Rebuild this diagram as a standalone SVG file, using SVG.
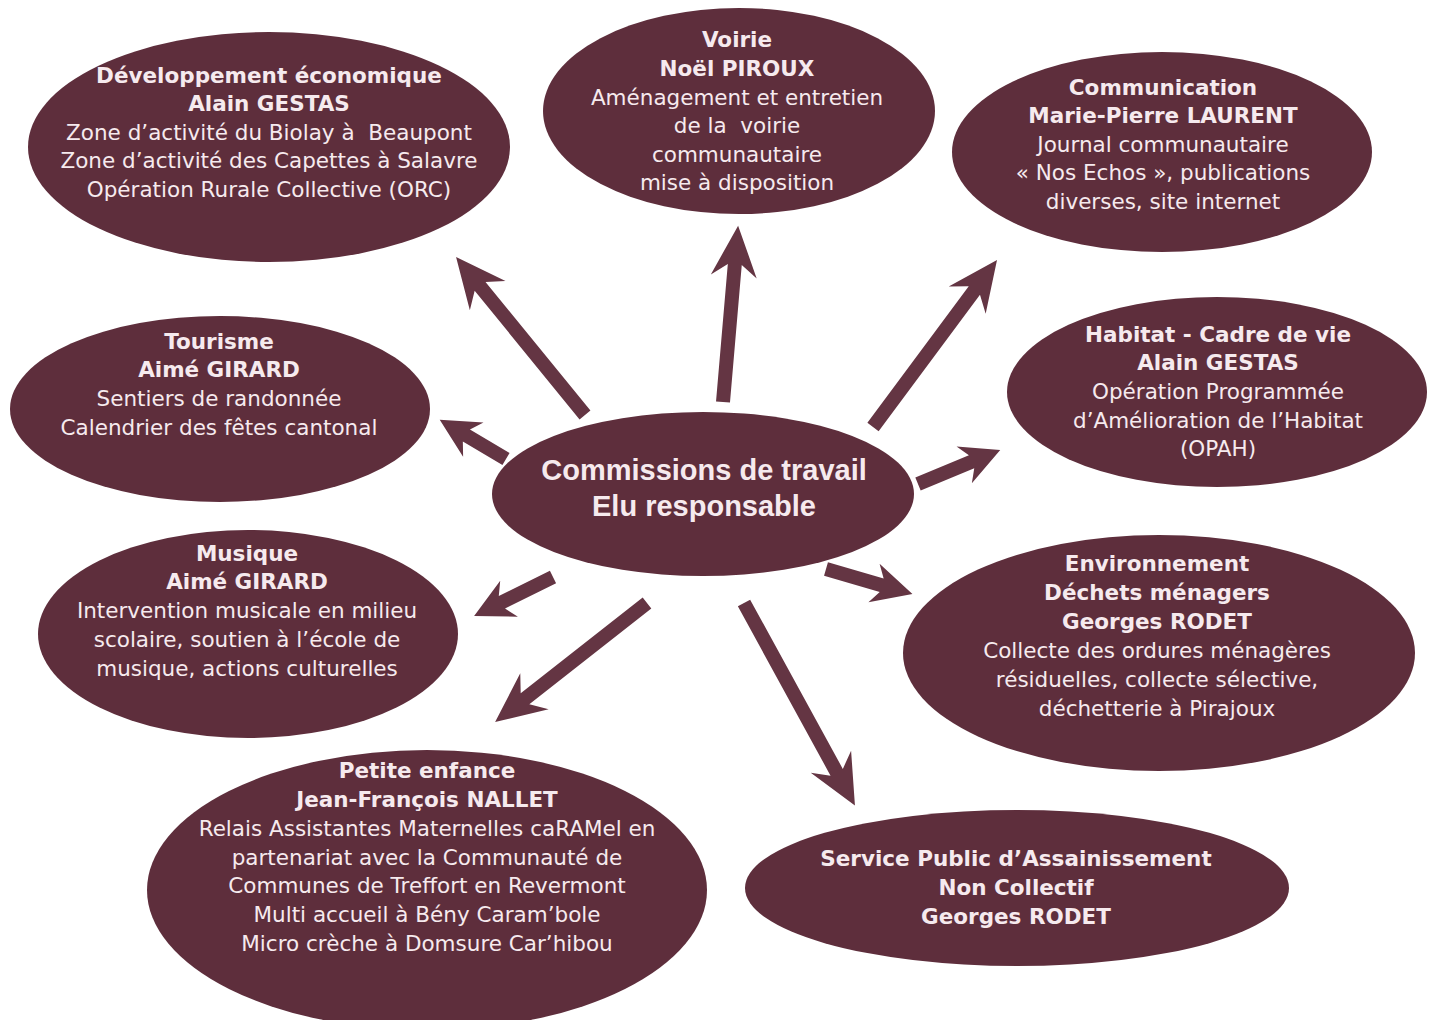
<svg xmlns="http://www.w3.org/2000/svg" width="1432" height="1020" viewBox="0 0 1432 1020">
<style>
.n{fill:#5e2e3c}
.a{fill:#643543}
text{font-family:"DejaVu Sans","Liberation Sans",Arial,sans-serif;fill:#f6eaee;text-anchor:middle;font-size:21.5px;white-space:pre}
.t{font-weight:bold;font-size:21.5px}
.c{font-family:"Liberation Sans",Arial,sans-serif;font-weight:bold;font-size:29px}
</style>
<rect width="1432" height="1020" fill="#ffffff"/>
<g id="connectors">
<path class="a" transform="translate(585,415) rotate(230.8)" d="M0,-7 H166 L154,-23 L204,0 L154,23 L166,7 H0 Z"/>
<path class="a" transform="translate(723,402) rotate(-85.1)" d="M0,-7 H138 L126,-23 L177,0 L126,23 L138,7 H0 Z"/>
<path class="a" transform="translate(873,427) rotate(-53.4)" d="M0,-7 H170 L158,-23 L208,0 L158,23 L170,7 H0 Z"/>
<path class="a" transform="translate(506,459) rotate(210.6)" d="M0,-7 H46 L38,-20 L77,0 L38,20 L46,7 H0 Z"/>
<path class="a" transform="translate(918,484) rotate(-22.5)" d="M0,-7 H58 L50,-20 L89,0 L50,20 L58,7 H0 Z"/>
<path class="a" transform="translate(553,577) rotate(153.7)" d="M0,-7 H57 L49,-20 L88,0 L49,20 L57,7 H0 Z"/>
<path class="a" transform="translate(647,603) rotate(141.9)" d="M0,-7 H155 L143,-23 L193,0 L143,23 L155,7 H0 Z"/>
<path class="a" transform="translate(826,569) rotate(16.2)" d="M0,-7 H58 L50,-20 L90,0 L50,20 L58,7 H0 Z"/>
<path class="a" transform="translate(744,603) rotate(61.3)" d="M0,-7 H193 L181,-23 L231,0 L181,23 L193,7 H0 Z"/>
</g>
<g id="node-dev">
<ellipse class="n" cx="269" cy="147" rx="241" ry="115"/>
<text class="t" x="269" y="83">Développement économique</text>
<text class="t" x="269" y="111">Alain GESTAS</text>
<text x="269" y="140">Zone d’activité du Biolay à  Beaupont</text>
<text x="269" y="168">Zone d’activité des Capettes à Salavre</text>
<text x="269" y="197">Opération Rurale Collective (ORC)</text>
</g>
<g id="node-voirie">
<ellipse class="n" cx="739" cy="111" rx="196" ry="103"/>
<text class="t" x="737" y="47">Voirie</text>
<text class="t" x="737" y="76">Noël PIROUX</text>
<text x="737" y="105">Aménagement et entretien</text>
<text x="737" y="133">de la  voirie</text>
<text x="737" y="162">communautaire</text>
<text x="737" y="190">mise à disposition</text>
</g>
<g id="node-communication">
<ellipse class="n" cx="1162" cy="152" rx="210" ry="100"/>
<text class="t" x="1163" y="95">Communication</text>
<text class="t" x="1163" y="123">Marie-Pierre LAURENT</text>
<text x="1163" y="152">Journal communautaire</text>
<text x="1163" y="180">« Nos Echos », publications</text>
<text x="1163" y="209">diverses, site internet</text>
</g>
<g id="node-tourisme">
<ellipse class="n" cx="220" cy="409" rx="210" ry="93"/>
<text class="t" x="219" y="349">Tourisme</text>
<text class="t" x="219" y="377">Aimé GIRARD</text>
<text x="219" y="406">Sentiers de randonnée</text>
<text x="219" y="435">Calendrier des fêtes cantonal</text>
</g>
<g id="node-habitat">
<ellipse class="n" cx="1217" cy="392" rx="210" ry="95"/>
<text class="t" x="1218" y="342">Habitat - Cadre de vie</text>
<text class="t" x="1218" y="370">Alain GESTAS</text>
<text x="1218" y="399">Opération Programmée</text>
<text x="1218" y="428">d’Amélioration de l’Habitat</text>
<text x="1218" y="456">(OPAH)</text>
</g>
<g id="node-center">
<ellipse class="n" cx="703" cy="494" rx="211" ry="82"/>
<text class="c" x="704" y="480">Commissions de travail</text>
<text class="c" x="704" y="516">Elu responsable</text>
</g>
<g id="node-musique">
<ellipse class="n" cx="248" cy="634" rx="210" ry="104"/>
<text class="t" x="247" y="561">Musique</text>
<text class="t" x="247" y="589">Aimé GIRARD</text>
<text x="247" y="618">Intervention musicale en milieu</text>
<text x="247" y="647">scolaire, soutien à l’école de</text>
<text x="247" y="676">musique, actions culturelles</text>
</g>
<g id="node-environnement">
<ellipse class="n" cx="1159" cy="653" rx="256" ry="118"/>
<text class="t" x="1157" y="571">Environnement</text>
<text class="t" x="1157" y="600">Déchets ménagers</text>
<text class="t" x="1157" y="629">Georges RODET</text>
<text x="1157" y="658">Collecte des ordures ménagères</text>
<text x="1157" y="687">résiduelles, collecte sélective,</text>
<text x="1157" y="716">déchetterie à Pirajoux</text>
</g>
<g id="node-petite-enfance">
<ellipse class="n" cx="427" cy="890" rx="280" ry="140"/>
<text class="t" x="427" y="778">Petite enfance</text>
<text class="t" x="427" y="807">Jean-François NALLET</text>
<text x="427" y="836">Relais Assistantes Maternelles caRAMel en</text>
<text x="427" y="865">partenariat avec la Communauté de</text>
<text x="427" y="893">Communes de Treffort en Revermont</text>
<text x="427" y="922">Multi accueil à Bény Caram’bole</text>
<text x="427" y="951">Micro crèche à Domsure Car’hibou</text>
</g>
<g id="node-spanc">
<ellipse class="n" cx="1017" cy="888" rx="272" ry="78"/>
<text class="t" x="1016" y="866">Service Public d’Assainissement</text>
<text class="t" x="1016" y="895">Non Collectif</text>
<text class="t" x="1016" y="924">Georges RODET</text>
</g>
</svg>
